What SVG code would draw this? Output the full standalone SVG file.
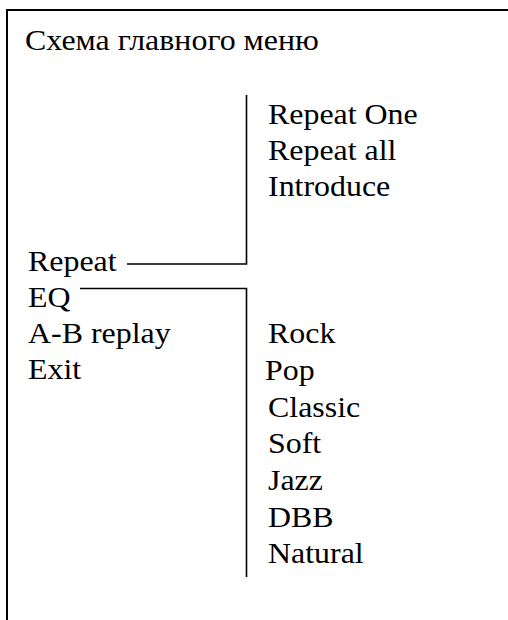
<svg xmlns="http://www.w3.org/2000/svg" width="508" height="620" viewBox="0 0 508 620">
<style>
text{font-family:"Liberation Serif","Times New Roman",serif;font-size:28.5px;fill:#000}
.ln{fill:none;stroke:#000;stroke-width:1.6}
.bd{fill:none;stroke:#000;stroke-width:2}
</style>
<rect width="508" height="620" fill="#fff"/>
<path class="bd" d="M7,620 V10 H508"/>
<g id="title"><text transform="translate(25,50) scale(1.12,1)">Схема главного меню</text></g>
<g id="repeat"><text transform="translate(28,271) scale(1.12,1)">Repeat</text></g>
<g id="eq"><text transform="translate(28,307) scale(1.12,1)">EQ</text></g>
<g id="abreplay"><text transform="translate(28,343) scale(1.12,1)">A-B replay</text></g>
<g id="exit"><text transform="translate(28,378.5) scale(1.12,1)">Exit</text></g>
<g id="repeat-one"><text transform="translate(268,124) scale(1.12,1)">Repeat One</text></g>
<g id="repeat-all"><text transform="translate(268,160) scale(1.12,1)">Repeat all</text></g>
<g id="introduce"><text transform="translate(268,196) scale(1.12,1)">Introduce</text></g>
<g id="rock"><text transform="translate(268,343) scale(1.12,1)">Rock</text></g>
<g id="pop"><text transform="translate(265,380) scale(1.12,1)">Pop</text></g>
<g id="classic"><text transform="translate(268,416.5) scale(1.12,1)">Classic</text></g>
<g id="soft"><text transform="translate(268,453) scale(1.12,1)">Soft</text></g>
<g id="jazz"><text transform="translate(268,490) scale(1.12,1)">Jazz</text></g>
<g id="dbb"><text transform="translate(268,526.5) scale(1.12,1)">DBB</text></g>
<g id="natural"><text transform="translate(268,563) scale(1.12,1)">Natural</text></g>
<g id="connectors">
<polyline class="ln" points="127,264 246.5,264 246.5,95"/>
<polyline class="ln" points="80,288.5 246.5,288.5 246.5,577"/>
</g>
</svg>
